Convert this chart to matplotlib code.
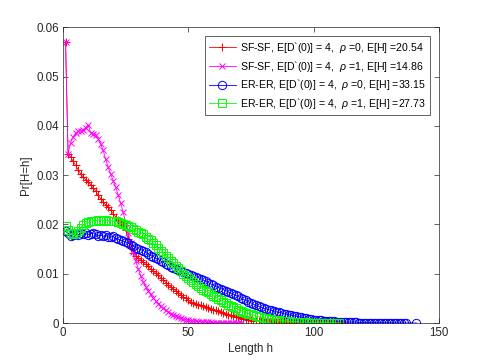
import numpy as np
import matplotlib
matplotlib.use("Agg")
import matplotlib.pyplot as plt

plt.rcParams['font.family'] = ['Liberation Sans', 'DejaVu Sans']
plt.rcParams['mathtext.fontset'] = 'custom'
plt.rcParams['mathtext.it'] = 'Liberation Sans:italic'
plt.rcParams['mathtext.rm'] = 'Liberation Sans'

# ---- data ----
sf0 = [0.057, 0.0343, 0.0337, 0.0328, 0.0320, 0.0311, 0.0303, 0.0296, 0.0291, 0.0286,
       0.0281, 0.0274, 0.0268, 0.0259, 0.0252, 0.0246, 0.0240, 0.0235, 0.0229, 0.0222,
       0.0215, 0.0209, 0.0205, 0.0199, 0.0188, 0.0170, 0.0152, 0.0143, 0.0137, 0.0132,
       0.0128, 0.0124, 0.0119, 0.0115, 0.0110, 0.0106, 0.0101, 0.0097, 0.0092, 0.0088,
       0.0082, 0.0078, 0.0073, 0.0069, 0.0065, 0.0061, 0.0057, 0.0053, 0.0050, 0.0046,
       0.0043, 0.0041, 0.0039, 0.0037, 0.0036, 0.0035, 0.0033, 0.0031, 0.0029, 0.0027,
       0.0026, 0.0024, 0.0022, 0.0020, 0.0019, 0.0017, 0.0016, 0.0014, 0.0013, 0.0012,
       0.0010, 0.0009, 0.0008, 0.0007, 0.0006, 0.0005, 0.0005, 0.0004, 0.0004, 0.0003,
       0.0003, 0.0003, 0.0003, 0.0002, 0.0002, 0.0002, 0.0002, 0.0002, 0.0001, 0.0001,
       0.0001, 0.0001, 0.0001, 0.0001, 0.00009, 0.00008, 0.00008, 0.00007, 0.00007, 0.00006,
       0.00006, 0.00005, 0.00005, 0.00005, 0.00004, 0.00004, 0.00004, 0.00003, 0.00003, 0.00003,
       0.00003, 0.00002]

sf1 = [0.057, 0.0343, 0.0366, 0.0377, 0.0385, 0.0389, 0.0390, 0.0392, 0.0396, 0.0402,
       0.0386, 0.0384, 0.0381, 0.0374, 0.0364, 0.0350, 0.0333, 0.0316, 0.0302, 0.0289,
       0.0275, 0.0260, 0.0243, 0.0225, 0.0203, 0.0182, 0.0163, 0.0145, 0.0126, 0.0110,
       0.0096, 0.0084, 0.0074, 0.0066, 0.0058, 0.0051, 0.0045, 0.0039, 0.0034, 0.0030,
       0.0026, 0.0022, 0.0019, 0.0016, 0.0014, 0.0012, 0.0010, 0.0008, 0.0007, 0.0006,
       0.0005, 0.0004, 0.00035, 0.0003, 0.00025, 0.0002, 0.00018, 0.00015, 0.00012, 0.0001,
       0.00009, 0.00008, 0.00007, 0.00006, 0.00005, 0.00004, 0.00004, 0.00003, 0.00003, 0.00002,
       0.00002]

er0 = [0.0186, 0.0182, 0.0177, 0.0179, 0.0181, 0.0178, 0.0183, 0.0180, 0.0182, 0.0179,
       0.0181, 0.0183, 0.0180, 0.0177, 0.0179, 0.0176, 0.0178, 0.0175, 0.0174, 0.0176,
       0.0172, 0.0170, 0.0168, 0.0166, 0.0164, 0.0162, 0.0159, 0.0156, 0.0153, 0.0151,
       0.0149, 0.0147, 0.0144, 0.0140, 0.0137, 0.0135, 0.0132, 0.0129, 0.0126, 0.0123,
       0.0120, 0.0117, 0.0114, 0.0112, 0.0110, 0.0108, 0.0105, 0.0103, 0.0101, 0.0099,
       0.0097, 0.0095, 0.0094, 0.0092, 0.0090, 0.0087, 0.0085, 0.0082, 0.0079, 0.0077,
       0.0074, 0.0072, 0.0070, 0.0068, 0.0066, 0.0063, 0.0061, 0.0058, 0.0056, 0.0054,
       0.0051, 0.0048, 0.0046, 0.0043, 0.0041, 0.0038, 0.0036, 0.0034, 0.0032, 0.0030,
       0.0029, 0.0027, 0.0026, 0.0025, 0.0023, 0.0022, 0.0021, 0.0019, 0.0018, 0.0017,
       0.0016, 0.0015, 0.0014, 0.0013, 0.0012, 0.0011, 0.0010, 0.0009, 0.0008, 0.0007,
       0.0007, 0.0006, 0.0006, 0.0005, 0.0005, 0.0004, 0.0004, 0.0004, 0.0003, 0.0003,
       0.0003, 0.0003, 0.0002, 0.0002, 0.0002, 0.0002, 0.0002, 0.0001, 0.0001, 0.0001,
       0.0001, 0.0001, 0.0001, 0.00009, 0.00009, 0.00008, 0.00008, 0.00007, 0.00007, 0.00006,
       0.00006, 0.00005, 0.00005, 0.00005, 0.00004, 0.00004, 0.00003, 0.00002]
er0_h = list(range(1, 138)) + [141]

er1 = [0.0197, 0.0189, 0.0182, 0.0180, 0.0183, 0.0186, 0.0193, 0.0199, 0.0202, 0.0204,
       0.0206, 0.0208, 0.0207, 0.0209, 0.0210, 0.0208, 0.0209, 0.0207, 0.0208, 0.0206,
       0.0207, 0.0205, 0.0203, 0.0201, 0.0199, 0.0197, 0.0194, 0.0191, 0.0188, 0.0185,
       0.0183, 0.0180, 0.0174, 0.0170, 0.0168, 0.0162, 0.0158, 0.0152, 0.0147, 0.0142,
       0.0137, 0.0132, 0.0126, 0.0121, 0.0116, 0.0111, 0.0105, 0.0100, 0.0095, 0.0091,
       0.0087, 0.0083, 0.0079, 0.0075, 0.0072, 0.0068, 0.0065, 0.0062, 0.0058, 0.0055,
       0.0053, 0.0049, 0.0046, 0.0043, 0.0040, 0.0037, 0.0035, 0.0032, 0.0030, 0.0027,
       0.0025, 0.0023, 0.0021, 0.0019, 0.0018, 0.0016, 0.0014, 0.0013, 0.0012, 0.0011,
       0.0010, 0.0009, 0.0008, 0.0007, 0.0006, 0.0006, 0.0005, 0.0005, 0.0004, 0.0004,
       0.0003, 0.0003, 0.0003, 0.0002, 0.0002, 0.0002, 0.0002, 0.0001, 0.0001, 0.0001,
       0.0001, 0.00009, 0.00008, 0.00008, 0.00007, 0.00006, 0.00006, 0.00005, 0.00005, 0.00004]

labels = [r"SF-SF, E[D`(0)] = 4,  $\rho$ =0, E[H] =20.54",
          r"SF-SF, E[D`(0)] = 4,  $\rho$ =1, E[H] =14.86",
          r"ER-ER, E[D`(0)] = 4,  $\rho$ =0, E[H] =33.15",
          r"ER-ER, E[D`(0)] = 4,  $\rho$ =1, E[H] =27.73"]

ax_col = '#262626'
red, mag, blue, green = '#ff0000', '#ff00ff', '#0000ff', '#00ff00'

fig = plt.figure(figsize=(4.85, 3.63), dpi=100)
ax = fig.add_axes([0.13, 0.11, 0.775, 0.815])

ax.plot(range(1, len(sf0) + 1), sf0, linestyle='-', marker='+', color=red, mec=red,
        lw=0.6, ms=6, mew=0.7, label=labels[0])
ax.plot(range(1, len(sf1) + 1), sf1, linestyle='-', marker='x', color=mag, mec=mag,
        lw=0.6, ms=4.8, mew=0.7, label=labels[1])
ax.plot(er0_h, er0, linestyle='-', marker='o', color=blue, mec=blue, mfc='none',
        lw=0.6, ms=6, mew=0.7, label=labels[2])
ax.plot(range(1, len(er1) + 1), er1, linestyle='-', marker='s', color=green, mec=green,
        mfc='none', lw=0.6, ms=5.5, mew=0.7, label=labels[3])

ax.set_xlim(0, 150)
ax.set_ylim(0, 0.06)
ax.set_xticks([0, 50, 100, 150])
ax.set_yticks([0, 0.01, 0.02, 0.03, 0.04, 0.05, 0.06])
ax.set_yticklabels(['0', '0.01', '0.02', '0.03', '0.04', '0.05', '0.06'])
ax.tick_params(direction='in', length=3.5, width=0.5, color=ax_col, labelcolor=ax_col,
               labelsize=8.3, top=True, right=True, pad=3)
for s in ax.spines.values():
    s.set_color(ax_col)
    s.set_linewidth(0.5)

ax.set_xlabel('Length h', fontsize=8.3, color=ax_col, labelpad=3)
ax.set_ylabel('Pr[H=h]', fontsize=8.3, color=ax_col, labelpad=3)

leg = ax.legend(loc='upper right', fontsize=7.6, frameon=True, fancybox=False,
                borderaxespad=0.8, handlelength=2.6, labelspacing=0.35,
                borderpad=0.4, handletextpad=0.4, framealpha=1)
leg.get_frame().set_edgecolor(ax_col)
leg.get_frame().set_linewidth(0.5)

fig.savefig('out.png', dpi=100)
